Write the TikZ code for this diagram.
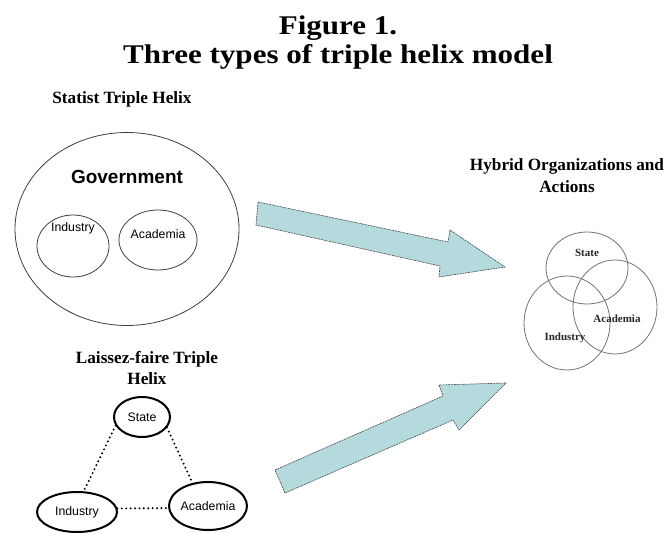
\documentclass[tikz,border=0pt]{standalone}
\usepackage{fontspec}
\usepackage{graphicx}
\setmainfont{Liberation Serif}
\setsansfont{Liberation Sans}
\usetikzlibrary{shapes.geometric}
\definecolor{arrowfill}{RGB}{180,218,222}
\tikzset{
  ring/.style={draw=black!75, line width=0.8pt, ellipse, inner sep=0pt},
  venn/.style={draw=black!55, line width=0.8pt, ellipse, inner sep=0pt},
  lfnode/.style={draw=black, line width=2pt, ellipse, inner sep=0pt},
  dotlink/.style={line width=2.2pt, dash pattern=on 0pt off 4.4pt, line cap=round},
  blockarrow/.style={fill=arrowfill, draw=black!70, line width=0.6pt, dash pattern=on 2pt off 0.8pt, line join=miter},
  heading/.style={font=\fontsize{17.2}{21}\selectfont\bfseries, anchor=base},
  titletext/.style={font=\fontsize{27}{32}\selectfont\bfseries, anchor=base},
  sanslabel/.style={font=\sffamily\fontsize{12.3}{14}\selectfont},
  vennlabel/.style={font=\fontsize{11}{13}\selectfont\bfseries, text=black!85},
}
\begin{document}
\begin{tikzpicture}[x=1pt,y=-1pt]
\useasboundingbox[fill=white] (0,0) rectangle (665,533);
% title
\node[titletext] (t1) at (338,34) {\scalebox{1.15}[1]{Figure 1.}};
\node[titletext] (t2) at (338,63) {\scalebox{1.15}[1]{Three types of triple helix model}};
% statist
\node[heading] (sth) at (122,103) {Statist Triple Helix};
\node[ring, minimum width=224pt, minimum height=193pt] (gov) at (127,229) {};
\node[font=\sffamily\bfseries\fontsize{19}{22}\selectfont] (govt) at (127,177) {Government};
\node[ring, minimum width=72pt, minimum height=62pt] (sind) at (73,246) {};
\node[ring, minimum width=78pt, minimum height=60pt] (sac) at (158,240) {};
\node[sanslabel] (sindt) at (73,228) {Industry};
\node[sanslabel] (sact) at (158,234) {Academia};
% laissez-faire
\node[heading] (lf1) at (147,363) {Laissez-faire Triple};
\node[heading] (lf2) at (147,384) {Helix};
\node[lfnode, minimum width=56pt, minimum height=40pt, sanslabel] (lst) at (142,417) {State};
\node[lfnode, minimum width=80pt, minimum height=40pt, sanslabel] (lin) at (77,512) {Industry};
\node[lfnode, minimum width=78pt, minimum height=48pt, sanslabel] (lac) at (208,506) {Academia};
\draw[dotlink] (lst.198) -- (lin.72);
\draw[dotlink] (lst.-23) -- (lac.124);
\draw[dotlink] (lin.5) -- (lac.183);
% arrows
\path[blockarrow] (258,202) -- (448,242) -- (450,230) -- (505,267) -- (439,277) -- (440,266) -- (256,225) -- cycle;
\path[blockarrow] (275,470) -- (443,396) -- (439,385) -- (506,383) -- (459,430) -- (453,420) -- (285,493) -- cycle;
% hybrid
\node[heading] (hy1) at (567,170) {Hybrid Organizations and};
\node[heading] (hy2) at (567,192) {Actions};
\node[venn, minimum width=82pt, minimum height=72pt] (vst) at (587,268) {};
\node[venn, minimum width=86pt, minimum height=94pt] (vin) at (567,323) {};
\node[venn, minimum width=84pt, minimum height=94pt] (vac) at (615,307) {};
\node[vennlabel] (vstt) at (587,253) {State};
\node[vennlabel] (vact) at (617,319) {Academia};
\node[vennlabel] (vint) at (565,338) {Industry};
\end{tikzpicture}
\end{document}
